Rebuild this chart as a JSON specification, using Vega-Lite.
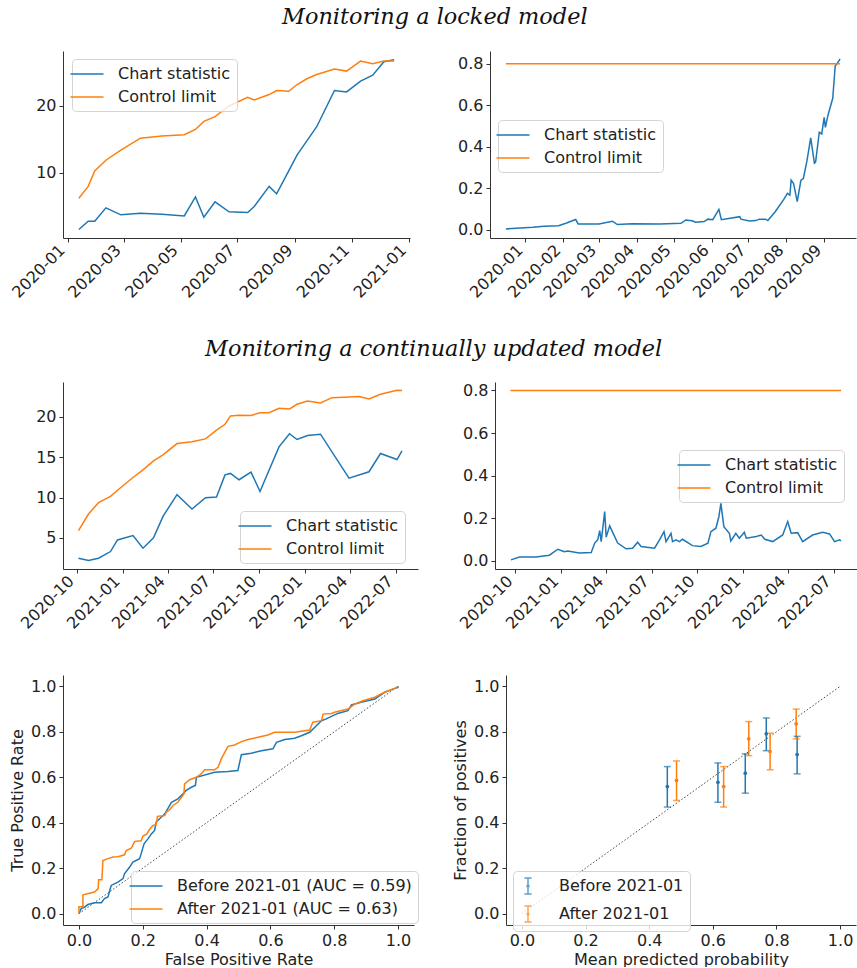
{
  "$schema": "https://vega.github.io/schema/vega-lite/v6.json",
  "padding": {"left": 9, "top": 5, "right": 0, "bottom": 0},
  "background": "white",
  "config": {
    "font": "DejaVu Sans",
    "view": {"stroke": null},
    "axis": {"grid": false, "domainColor": "#333", "tickColor": "#333", "labelColor": "#222", "labelFontSize": 16, "labelFont": "DejaVu Sans", "titleFont": "DejaVu Sans", "titleFontSize": 16, "titleFontWeight": "normal", "titleColor": "#222", "tickSize": 4, "labelPadding": 3, "domainWidth": 1, "tickWidth": 1},
    "legend": {"labelFontSize": 16, "labelFont": "DejaVu Sans", "labelColor": "#222", "strokeColor": "#d3d3d3", "fillColor": "rgba(255,255,255,0.8)", "cornerRadius": 4, "padding": 6, "rowPadding": 6, "symbolType": "M-2,0H2", "symbolSize": 272, "symbolStrokeWidth": 1.5, "labelOffset": 22, "labelLimit": 400},
    "title": {"font": "DejaVu Serif", "fontStyle": "italic", "fontSize": 22.4, "fontWeight": "normal", "color": "#111", "anchor": "start", "frame": "group"}
  },
  "datasets": {
    "p1": [
      {"date": "2020-01-13", "series": "Chart statistic", "value": 1.57}, {"date": "2020-01-13", "series": "Control limit", "value": 6.23},
      {"date": "2020-01-23", "series": "Chart statistic", "value": 2.81}, {"date": "2020-01-23", "series": "Control limit", "value": 8.0},
      {"date": "2020-01-30", "series": "Chart statistic", "value": 2.81}, {"date": "2020-01-30", "series": "Control limit", "value": 10.3},
      {"date": "2020-02-11", "series": "Chart statistic", "value": 4.8}, {"date": "2020-02-11", "series": "Control limit", "value": 11.9},
      {"date": "2020-02-27", "series": "Chart statistic", "value": 3.76}, {"date": "2020-02-27", "series": "Control limit", "value": 13.4},
      {"date": "2020-03-19", "series": "Chart statistic", "value": 4.0}, {"date": "2020-03-19", "series": "Control limit", "value": 15.2},
      {"date": "2020-04-11", "series": "Chart statistic", "value": 3.85}, {"date": "2020-04-11", "series": "Control limit", "value": 15.5},
      {"date": "2020-05-05", "series": "Chart statistic", "value": 3.6}, {"date": "2020-05-05", "series": "Control limit", "value": 15.7},
      {"date": "2020-05-17", "series": "Chart statistic", "value": 6.43}, {"date": "2020-05-17", "series": "Control limit", "value": 16.5},
      {"date": "2020-05-26", "series": "Chart statistic", "value": 3.4}, {"date": "2020-05-26", "series": "Control limit", "value": 17.7},
      {"date": "2020-06-07", "series": "Chart statistic", "value": 5.7}, {"date": "2020-06-07", "series": "Control limit", "value": 18.4},
      {"date": "2020-06-22", "series": "Chart statistic", "value": 4.2}, {"date": "2020-06-22", "series": "Control limit", "value": 20.0},
      {"date": "2020-07-12", "series": "Chart statistic", "value": 4.1}, {"date": "2020-07-12", "series": "Control limit", "value": 21.3},
      {"date": "2020-07-19", "series": "Chart statistic", "value": 5.0}, {"date": "2020-07-19", "series": "Control limit", "value": 20.9},
      {"date": "2020-08-04", "series": "Chart statistic", "value": 8.0}, {"date": "2020-08-04", "series": "Control limit", "value": 21.7},
      {"date": "2020-08-12", "series": "Chart statistic", "value": 6.9}, {"date": "2020-08-12", "series": "Control limit", "value": 22.3},
      {"date": "2020-08-25", "series": "Chart statistic", "value": 10.3}, {"date": "2020-08-25", "series": "Control limit", "value": 22.2},
      {"date": "2020-09-03", "series": "Chart statistic", "value": 12.7}, {"date": "2020-09-03", "series": "Control limit", "value": 23.2},
      {"date": "2020-09-14", "series": "Chart statistic", "value": 14.9}, {"date": "2020-09-14", "series": "Control limit", "value": 24.1},
      {"date": "2020-09-24", "series": "Chart statistic", "value": 16.9}, {"date": "2020-09-24", "series": "Control limit", "value": 24.7},
      {"date": "2020-10-13", "series": "Chart statistic", "value": 22.3}, {"date": "2020-10-13", "series": "Control limit", "value": 25.5},
      {"date": "2020-10-26", "series": "Chart statistic", "value": 22.1}, {"date": "2020-10-26", "series": "Control limit", "value": 25.2},
      {"date": "2020-11-10", "series": "Chart statistic", "value": 23.7}, {"date": "2020-11-10", "series": "Control limit", "value": 26.7},
      {"date": "2020-11-23", "series": "Chart statistic", "value": 24.6}, {"date": "2020-11-23", "series": "Control limit", "value": 26.3},
      {"date": "2020-12-05", "series": "Chart statistic", "value": 26.6}, {"date": "2020-12-05", "series": "Control limit", "value": 26.7},
      {"date": "2020-12-16", "series": "Chart statistic", "value": 26.9}, {"date": "2020-12-16", "series": "Control limit", "value": 26.7}
    ],
    "p2": [
      {"date": "2019-12-16", "series": "Chart statistic", "value": 0.003},
      {"date": "2020-01-07", "series": "Chart statistic", "value": 0.011},
      {"date": "2020-01-16", "series": "Chart statistic", "value": 0.016},
      {"date": "2020-01-28", "series": "Chart statistic", "value": 0.018},
      {"date": "2020-02-03", "series": "Chart statistic", "value": 0.03},
      {"date": "2020-02-11", "series": "Chart statistic", "value": 0.048},
      {"date": "2020-02-13", "series": "Chart statistic", "value": 0.027},
      {"date": "2020-03-01", "series": "Chart statistic", "value": 0.027},
      {"date": "2020-03-12", "series": "Chart statistic", "value": 0.04},
      {"date": "2020-03-16", "series": "Chart statistic", "value": 0.024},
      {"date": "2020-03-28", "series": "Chart statistic", "value": 0.028},
      {"date": "2020-04-20", "series": "Chart statistic", "value": 0.027},
      {"date": "2020-05-07", "series": "Chart statistic", "value": 0.03},
      {"date": "2020-05-11", "series": "Chart statistic", "value": 0.046},
      {"date": "2020-05-16", "series": "Chart statistic", "value": 0.042},
      {"date": "2020-05-19", "series": "Chart statistic", "value": 0.035},
      {"date": "2020-05-26", "series": "Chart statistic", "value": 0.038},
      {"date": "2020-05-29", "series": "Chart statistic", "value": 0.05},
      {"date": "2020-06-02", "series": "Chart statistic", "value": 0.047},
      {"date": "2020-06-07", "series": "Chart statistic", "value": 0.097},
      {"date": "2020-06-09", "series": "Chart statistic", "value": 0.047},
      {"date": "2020-06-24", "series": "Chart statistic", "value": 0.062},
      {"date": "2020-06-25", "series": "Chart statistic", "value": 0.05},
      {"date": "2020-07-02", "series": "Chart statistic", "value": 0.041},
      {"date": "2020-07-07", "series": "Chart statistic", "value": 0.043},
      {"date": "2020-07-10", "series": "Chart statistic", "value": 0.05},
      {"date": "2020-07-15", "series": "Chart statistic", "value": 0.05},
      {"date": "2020-07-17", "series": "Chart statistic", "value": 0.043},
      {"date": "2020-07-23", "series": "Chart statistic", "value": 0.086},
      {"date": "2020-07-30", "series": "Chart statistic", "value": 0.145},
      {"date": "2020-08-02", "series": "Chart statistic", "value": 0.174},
      {"date": "2020-08-04", "series": "Chart statistic", "value": 0.166},
      {"date": "2020-08-05", "series": "Chart statistic", "value": 0.238},
      {"date": "2020-08-07", "series": "Chart statistic", "value": 0.222},
      {"date": "2020-08-10", "series": "Chart statistic", "value": 0.134},
      {"date": "2020-08-13", "series": "Chart statistic", "value": 0.238},
      {"date": "2020-08-15", "series": "Chart statistic", "value": 0.246},
      {"date": "2020-08-18", "series": "Chart statistic", "value": 0.333},
      {"date": "2020-08-21", "series": "Chart statistic", "value": 0.442},
      {"date": "2020-08-24", "series": "Chart statistic", "value": 0.32},
      {"date": "2020-08-25", "series": "Chart statistic", "value": 0.325},
      {"date": "2020-08-28", "series": "Chart statistic", "value": 0.469},
      {"date": "2020-08-30", "series": "Chart statistic", "value": 0.461},
      {"date": "2020-09-01", "series": "Chart statistic", "value": 0.541},
      {"date": "2020-09-02", "series": "Chart statistic", "value": 0.493},
      {"date": "2020-09-04", "series": "Chart statistic", "value": 0.549},
      {"date": "2020-09-08", "series": "Chart statistic", "value": 0.633},
      {"date": "2020-09-10", "series": "Chart statistic", "value": 0.788},
      {"date": "2020-09-12", "series": "Chart statistic", "value": 0.804},
      {"date": "2020-09-14", "series": "Chart statistic", "value": 0.823},
      {"date": "2019-12-16", "series": "Control limit", "value": 0.8},
      {"date": "2020-09-14", "series": "Control limit", "value": 0.8}
    ],
    "p3": [
      {"date": "2020-10-05", "series": "Chart statistic", "value": 2.49},
      {"date": "2020-10-25", "series": "Chart statistic", "value": 2.2},
      {"date": "2020-11-14", "series": "Chart statistic", "value": 2.49},
      {"date": "2020-12-08", "series": "Chart statistic", "value": 3.31},
      {"date": "2020-12-22", "series": "Chart statistic", "value": 4.75},
      {"date": "2021-01-22", "series": "Chart statistic", "value": 5.28},
      {"date": "2021-02-11", "series": "Chart statistic", "value": 3.72},
      {"date": "2021-03-04", "series": "Chart statistic", "value": 5.0},
      {"date": "2021-03-23", "series": "Chart statistic", "value": 7.67},
      {"date": "2021-04-20", "series": "Chart statistic", "value": 10.35},
      {"date": "2021-05-20", "series": "Chart statistic", "value": 8.58},
      {"date": "2021-06-16", "series": "Chart statistic", "value": 9.98},
      {"date": "2021-07-08", "series": "Chart statistic", "value": 10.06},
      {"date": "2021-07-25", "series": "Chart statistic", "value": 12.8},
      {"date": "2021-08-05", "series": "Chart statistic", "value": 12.98},
      {"date": "2021-08-22", "series": "Chart statistic", "value": 12.2},
      {"date": "2021-09-15", "series": "Chart statistic", "value": 13.15},
      {"date": "2021-10-03", "series": "Chart statistic", "value": 10.75},
      {"date": "2021-11-10", "series": "Chart statistic", "value": 16.27},
      {"date": "2021-12-01", "series": "Chart statistic", "value": 17.9},
      {"date": "2021-12-16", "series": "Chart statistic", "value": 17.18},
      {"date": "2022-01-06", "series": "Chart statistic", "value": 17.67},
      {"date": "2022-02-01", "series": "Chart statistic", "value": 17.84},
      {"date": "2022-03-30", "series": "Chart statistic", "value": 12.4},
      {"date": "2022-05-09", "series": "Chart statistic", "value": 13.19},
      {"date": "2022-06-01", "series": "Chart statistic", "value": 15.45},
      {"date": "2022-07-04", "series": "Chart statistic", "value": 14.7},
      {"date": "2022-07-14", "series": "Chart statistic", "value": 15.78},
      {"date": "2020-10-05", "series": "Control limit", "value": 5.9},
      {"date": "2020-10-25", "series": "Control limit", "value": 7.96},
      {"date": "2020-11-14", "series": "Control limit", "value": 9.36},
      {"date": "2020-12-08", "series": "Control limit", "value": 10.14},
      {"date": "2020-12-22", "series": "Control limit", "value": 10.9},
      {"date": "2021-01-22", "series": "Control limit", "value": 12.48},
      {"date": "2021-02-11", "series": "Control limit", "value": 13.43},
      {"date": "2021-03-04", "series": "Control limit", "value": 14.54},
      {"date": "2021-03-23", "series": "Control limit", "value": 15.28},
      {"date": "2021-04-20", "series": "Control limit", "value": 16.68},
      {"date": "2021-05-20", "series": "Control limit", "value": 16.89},
      {"date": "2021-06-16", "series": "Control limit", "value": 17.26},
      {"date": "2021-07-08", "series": "Control limit", "value": 18.33},
      {"date": "2021-07-25", "series": "Control limit", "value": 19.07},
      {"date": "2021-08-05", "series": "Control limit", "value": 20.1},
      {"date": "2021-08-22", "series": "Control limit", "value": 20.19},
      {"date": "2021-09-15", "series": "Control limit", "value": 20.15},
      {"date": "2021-10-03", "series": "Control limit", "value": 20.5},
      {"date": "2021-10-21", "series": "Control limit", "value": 20.5},
      {"date": "2021-11-10", "series": "Control limit", "value": 21.05},
      {"date": "2021-12-01", "series": "Control limit", "value": 20.96},
      {"date": "2021-12-16", "series": "Control limit", "value": 21.54},
      {"date": "2022-01-06", "series": "Control limit", "value": 21.95},
      {"date": "2022-02-01", "series": "Control limit", "value": 21.7},
      {"date": "2022-02-24", "series": "Control limit", "value": 22.36},
      {"date": "2022-03-30", "series": "Control limit", "value": 22.44},
      {"date": "2022-04-19", "series": "Control limit", "value": 22.5},
      {"date": "2022-05-09", "series": "Control limit", "value": 22.2},
      {"date": "2022-06-01", "series": "Control limit", "value": 22.78},
      {"date": "2022-07-04", "series": "Control limit", "value": 23.27},
      {"date": "2022-07-14", "series": "Control limit", "value": 23.25}
    ],
    "p4": [
      {"date": "2020-09-22", "series": "Chart statistic", "value": 0.003},
      {"date": "2020-10-09", "series": "Chart statistic", "value": 0.016},
      {"date": "2020-11-11", "series": "Chart statistic", "value": 0.016},
      {"date": "2020-12-08", "series": "Chart statistic", "value": 0.025},
      {"date": "2020-12-25", "series": "Chart statistic", "value": 0.053},
      {"date": "2021-01-07", "series": "Chart statistic", "value": 0.041},
      {"date": "2021-01-14", "series": "Chart statistic", "value": 0.045},
      {"date": "2021-02-06", "series": "Chart statistic", "value": 0.035},
      {"date": "2021-03-02", "series": "Chart statistic", "value": 0.038},
      {"date": "2021-03-09", "series": "Chart statistic", "value": 0.082},
      {"date": "2021-03-15", "series": "Chart statistic", "value": 0.097},
      {"date": "2021-03-19", "series": "Chart statistic", "value": 0.141},
      {"date": "2021-03-22", "series": "Chart statistic", "value": 0.089},
      {"date": "2021-03-29", "series": "Chart statistic", "value": 0.23},
      {"date": "2021-04-01", "series": "Chart statistic", "value": 0.11},
      {"date": "2021-04-08", "series": "Chart statistic", "value": 0.163},
      {"date": "2021-04-24", "series": "Chart statistic", "value": 0.082},
      {"date": "2021-05-11", "series": "Chart statistic", "value": 0.055},
      {"date": "2021-05-24", "series": "Chart statistic", "value": 0.058},
      {"date": "2021-06-03", "series": "Chart statistic", "value": 0.086},
      {"date": "2021-06-10", "series": "Chart statistic", "value": 0.066},
      {"date": "2021-07-07", "series": "Chart statistic", "value": 0.058},
      {"date": "2021-07-17", "series": "Chart statistic", "value": 0.097},
      {"date": "2021-07-26", "series": "Chart statistic", "value": 0.136},
      {"date": "2021-07-30", "series": "Chart statistic", "value": 0.089},
      {"date": "2021-08-09", "series": "Chart statistic", "value": 0.128},
      {"date": "2021-08-12", "series": "Chart statistic", "value": 0.089},
      {"date": "2021-08-19", "series": "Chart statistic", "value": 0.097},
      {"date": "2021-08-26", "series": "Chart statistic", "value": 0.089},
      {"date": "2021-09-01", "series": "Chart statistic", "value": 0.1},
      {"date": "2021-09-21", "series": "Chart statistic", "value": 0.07},
      {"date": "2021-10-08", "series": "Chart statistic", "value": 0.066},
      {"date": "2021-10-22", "series": "Chart statistic", "value": 0.081},
      {"date": "2021-10-28", "series": "Chart statistic", "value": 0.136},
      {"date": "2021-11-07", "series": "Chart statistic", "value": 0.152},
      {"date": "2021-11-13", "series": "Chart statistic", "value": 0.206},
      {"date": "2021-11-17", "series": "Chart statistic", "value": 0.269},
      {"date": "2021-11-23", "series": "Chart statistic", "value": 0.159},
      {"date": "2021-12-04", "series": "Chart statistic", "value": 0.128},
      {"date": "2021-12-07", "series": "Chart statistic", "value": 0.092},
      {"date": "2021-12-17", "series": "Chart statistic", "value": 0.128},
      {"date": "2021-12-24", "series": "Chart statistic", "value": 0.105},
      {"date": "2022-01-03", "series": "Chart statistic", "value": 0.133},
      {"date": "2022-01-07", "series": "Chart statistic", "value": 0.105},
      {"date": "2022-01-27", "series": "Chart statistic", "value": 0.113},
      {"date": "2022-02-06", "series": "Chart statistic", "value": 0.12},
      {"date": "2022-02-13", "series": "Chart statistic", "value": 0.1},
      {"date": "2022-03-01", "series": "Chart statistic", "value": 0.089},
      {"date": "2022-03-21", "series": "Chart statistic", "value": 0.12},
      {"date": "2022-03-31", "series": "Chart statistic", "value": 0.183},
      {"date": "2022-04-07", "series": "Chart statistic", "value": 0.128},
      {"date": "2022-04-20", "series": "Chart statistic", "value": 0.131},
      {"date": "2022-04-30", "series": "Chart statistic", "value": 0.089},
      {"date": "2022-05-20", "series": "Chart statistic", "value": 0.12},
      {"date": "2022-06-09", "series": "Chart statistic", "value": 0.133},
      {"date": "2022-06-23", "series": "Chart statistic", "value": 0.125},
      {"date": "2022-07-03", "series": "Chart statistic", "value": 0.089},
      {"date": "2022-07-13", "series": "Chart statistic", "value": 0.097},
      {"date": "2022-07-16", "series": "Chart statistic", "value": 0.092},
      {"date": "2020-09-21", "series": "Control limit", "value": 0.8},
      {"date": "2022-07-16", "series": "Control limit", "value": 0.8}
    ],
    "diag": [{"x": 0, "y": 0}, {"x": 1, "y": 1}],
    "roc": [
      {"g": "Before 2021-01 (AUC = 0.59)", "i": 0, "f": 0, "t": 0},
      {"g": "Before 2021-01 (AUC = 0.59)", "i": 1, "f": 0.007, "t": 0.022},
      {"g": "Before 2021-01 (AUC = 0.59)", "i": 2, "f": 0.018, "t": 0.029},
      {"g": "Before 2021-01 (AUC = 0.59)", "i": 3, "f": 0.028, "t": 0.04},
      {"g": "Before 2021-01 (AUC = 0.59)", "i": 4, "f": 0.049, "t": 0.048},
      {"g": "Before 2021-01 (AUC = 0.59)", "i": 5, "f": 0.07, "t": 0.048},
      {"g": "Before 2021-01 (AUC = 0.59)", "i": 6, "f": 0.08, "t": 0.066},
      {"g": "Before 2021-01 (AUC = 0.59)", "i": 7, "f": 0.091, "t": 0.073},
      {"g": "Before 2021-01 (AUC = 0.59)", "i": 8, "f": 0.101, "t": 0.124},
      {"g": "Before 2021-01 (AUC = 0.59)", "i": 9, "f": 0.122, "t": 0.139},
      {"g": "Before 2021-01 (AUC = 0.59)", "i": 10, "f": 0.138, "t": 0.154},
      {"g": "Before 2021-01 (AUC = 0.59)", "i": 11, "f": 0.143, "t": 0.176},
      {"g": "Before 2021-01 (AUC = 0.59)", "i": 12, "f": 0.159, "t": 0.205},
      {"g": "Before 2021-01 (AUC = 0.59)", "i": 13, "f": 0.169, "t": 0.227},
      {"g": "Before 2021-01 (AUC = 0.59)", "i": 14, "f": 0.19, "t": 0.242},
      {"g": "Before 2021-01 (AUC = 0.59)", "i": 15, "f": 0.195, "t": 0.264},
      {"g": "Before 2021-01 (AUC = 0.59)", "i": 16, "f": 0.204, "t": 0.307},
      {"g": "Before 2021-01 (AUC = 0.59)", "i": 17, "f": 0.216, "t": 0.329},
      {"g": "Before 2021-01 (AUC = 0.59)", "i": 18, "f": 0.227, "t": 0.351},
      {"g": "Before 2021-01 (AUC = 0.59)", "i": 19, "f": 0.237, "t": 0.366},
      {"g": "Before 2021-01 (AUC = 0.59)", "i": 20, "f": 0.242, "t": 0.403},
      {"g": "Before 2021-01 (AUC = 0.59)", "i": 21, "f": 0.269, "t": 0.439},
      {"g": "Before 2021-01 (AUC = 0.59)", "i": 22, "f": 0.29, "t": 0.49},
      {"g": "Before 2021-01 (AUC = 0.59)", "i": 23, "f": 0.31, "t": 0.505},
      {"g": "Before 2021-01 (AUC = 0.59)", "i": 24, "f": 0.326, "t": 0.527},
      {"g": "Before 2021-01 (AUC = 0.59)", "i": 25, "f": 0.336, "t": 0.542},
      {"g": "Before 2021-01 (AUC = 0.59)", "i": 26, "f": 0.352, "t": 0.556},
      {"g": "Before 2021-01 (AUC = 0.59)", "i": 27, "f": 0.365, "t": 0.564},
      {"g": "Before 2021-01 (AUC = 0.59)", "i": 28, "f": 0.368, "t": 0.6},
      {"g": "Before 2021-01 (AUC = 0.59)", "i": 29, "f": 0.425, "t": 0.622},
      {"g": "Before 2021-01 (AUC = 0.59)", "i": 30, "f": 0.467, "t": 0.625},
      {"g": "Before 2021-01 (AUC = 0.59)", "i": 31, "f": 0.498, "t": 0.63},
      {"g": "Before 2021-01 (AUC = 0.59)", "i": 32, "f": 0.509, "t": 0.699},
      {"g": "Before 2021-01 (AUC = 0.59)", "i": 33, "f": 0.54, "t": 0.706},
      {"g": "Before 2021-01 (AUC = 0.59)", "i": 34, "f": 0.572, "t": 0.717},
      {"g": "Before 2021-01 (AUC = 0.59)", "i": 35, "f": 0.608, "t": 0.725},
      {"g": "Before 2021-01 (AUC = 0.59)", "i": 36, "f": 0.619, "t": 0.754},
      {"g": "Before 2021-01 (AUC = 0.59)", "i": 37, "f": 0.645, "t": 0.766},
      {"g": "Before 2021-01 (AUC = 0.59)", "i": 38, "f": 0.676, "t": 0.772},
      {"g": "Before 2021-01 (AUC = 0.59)", "i": 39, "f": 0.697, "t": 0.783},
      {"g": "Before 2021-01 (AUC = 0.59)", "i": 40, "f": 0.723, "t": 0.798},
      {"g": "Before 2021-01 (AUC = 0.59)", "i": 41, "f": 0.744, "t": 0.827},
      {"g": "Before 2021-01 (AUC = 0.59)", "i": 42, "f": 0.76, "t": 0.849},
      {"g": "Before 2021-01 (AUC = 0.59)", "i": 43, "f": 0.775, "t": 0.857},
      {"g": "Before 2021-01 (AUC = 0.59)", "i": 44, "f": 0.811, "t": 0.881},
      {"g": "Before 2021-01 (AUC = 0.59)", "i": 45, "f": 0.843, "t": 0.893},
      {"g": "Before 2021-01 (AUC = 0.59)", "i": 46, "f": 0.854, "t": 0.918},
      {"g": "Before 2021-01 (AUC = 0.59)", "i": 47, "f": 0.884, "t": 0.93},
      {"g": "Before 2021-01 (AUC = 0.59)", "i": 48, "f": 0.927, "t": 0.944},
      {"g": "Before 2021-01 (AUC = 0.59)", "i": 49, "f": 0.958, "t": 0.974},
      {"g": "Before 2021-01 (AUC = 0.59)", "i": 50, "f": 0.983, "t": 0.988},
      {"g": "Before 2021-01 (AUC = 0.59)", "i": 51, "f": 1.0, "t": 0.995},
      {"g": "Before 2021-01 (AUC = 0.59)", "i": 52, "f": 1.0, "t": 1.0},
      {"g": "After 2021-01 (AUC = 0.63)", "i": 0, "f": 0, "t": 0},
      {"g": "After 2021-01 (AUC = 0.63)", "i": 1, "f": 0, "t": 0.03},
      {"g": "After 2021-01 (AUC = 0.63)", "i": 2, "f": 0.0125, "t": 0.03},
      {"g": "After 2021-01 (AUC = 0.63)", "i": 3, "f": 0.0125, "t": 0.083},
      {"g": "After 2021-01 (AUC = 0.63)", "i": 4, "f": 0.033, "t": 0.09},
      {"g": "After 2021-01 (AUC = 0.63)", "i": 5, "f": 0.049, "t": 0.095},
      {"g": "After 2021-01 (AUC = 0.63)", "i": 6, "f": 0.06, "t": 0.11},
      {"g": "After 2021-01 (AUC = 0.63)", "i": 7, "f": 0.062, "t": 0.149},
      {"g": "After 2021-01 (AUC = 0.63)", "i": 8, "f": 0.072, "t": 0.149},
      {"g": "After 2021-01 (AUC = 0.63)", "i": 9, "f": 0.075, "t": 0.234},
      {"g": "After 2021-01 (AUC = 0.63)", "i": 10, "f": 0.091, "t": 0.242},
      {"g": "After 2021-01 (AUC = 0.63)", "i": 11, "f": 0.107, "t": 0.249},
      {"g": "After 2021-01 (AUC = 0.63)", "i": 12, "f": 0.122, "t": 0.25},
      {"g": "After 2021-01 (AUC = 0.63)", "i": 13, "f": 0.143, "t": 0.259},
      {"g": "After 2021-01 (AUC = 0.63)", "i": 14, "f": 0.148, "t": 0.278},
      {"g": "After 2021-01 (AUC = 0.63)", "i": 15, "f": 0.164, "t": 0.288},
      {"g": "After 2021-01 (AUC = 0.63)", "i": 16, "f": 0.175, "t": 0.318},
      {"g": "After 2021-01 (AUC = 0.63)", "i": 17, "f": 0.195, "t": 0.321},
      {"g": "After 2021-01 (AUC = 0.63)", "i": 18, "f": 0.2, "t": 0.34},
      {"g": "After 2021-01 (AUC = 0.63)", "i": 19, "f": 0.213, "t": 0.351},
      {"g": "After 2021-01 (AUC = 0.63)", "i": 20, "f": 0.222, "t": 0.373},
      {"g": "After 2021-01 (AUC = 0.63)", "i": 21, "f": 0.232, "t": 0.388},
      {"g": "After 2021-01 (AUC = 0.63)", "i": 22, "f": 0.242, "t": 0.391},
      {"g": "After 2021-01 (AUC = 0.63)", "i": 23, "f": 0.246, "t": 0.428},
      {"g": "After 2021-01 (AUC = 0.63)", "i": 24, "f": 0.269, "t": 0.432},
      {"g": "After 2021-01 (AUC = 0.63)", "i": 25, "f": 0.274, "t": 0.447},
      {"g": "After 2021-01 (AUC = 0.63)", "i": 26, "f": 0.284, "t": 0.457},
      {"g": "After 2021-01 (AUC = 0.63)", "i": 27, "f": 0.295, "t": 0.476},
      {"g": "After 2021-01 (AUC = 0.63)", "i": 28, "f": 0.31, "t": 0.49},
      {"g": "After 2021-01 (AUC = 0.63)", "i": 29, "f": 0.321, "t": 0.512},
      {"g": "After 2021-01 (AUC = 0.63)", "i": 30, "f": 0.329, "t": 0.527},
      {"g": "After 2021-01 (AUC = 0.63)", "i": 31, "f": 0.331, "t": 0.571},
      {"g": "After 2021-01 (AUC = 0.63)", "i": 32, "f": 0.347, "t": 0.589},
      {"g": "After 2021-01 (AUC = 0.63)", "i": 33, "f": 0.368, "t": 0.6},
      {"g": "After 2021-01 (AUC = 0.63)", "i": 34, "f": 0.383, "t": 0.615},
      {"g": "After 2021-01 (AUC = 0.63)", "i": 35, "f": 0.394, "t": 0.633},
      {"g": "After 2021-01 (AUC = 0.63)", "i": 36, "f": 0.425, "t": 0.633},
      {"g": "After 2021-01 (AUC = 0.63)", "i": 37, "f": 0.436, "t": 0.644},
      {"g": "After 2021-01 (AUC = 0.63)", "i": 38, "f": 0.446, "t": 0.681},
      {"g": "After 2021-01 (AUC = 0.63)", "i": 39, "f": 0.467, "t": 0.736},
      {"g": "After 2021-01 (AUC = 0.63)", "i": 40, "f": 0.488, "t": 0.742},
      {"g": "After 2021-01 (AUC = 0.63)", "i": 41, "f": 0.509, "t": 0.757},
      {"g": "After 2021-01 (AUC = 0.63)", "i": 42, "f": 0.53, "t": 0.766},
      {"g": "After 2021-01 (AUC = 0.63)", "i": 43, "f": 0.561, "t": 0.776},
      {"g": "After 2021-01 (AUC = 0.63)", "i": 44, "f": 0.592, "t": 0.786},
      {"g": "After 2021-01 (AUC = 0.63)", "i": 45, "f": 0.613, "t": 0.798},
      {"g": "After 2021-01 (AUC = 0.63)", "i": 46, "f": 0.676, "t": 0.798},
      {"g": "After 2021-01 (AUC = 0.63)", "i": 47, "f": 0.723, "t": 0.808},
      {"g": "After 2021-01 (AUC = 0.63)", "i": 48, "f": 0.733, "t": 0.842},
      {"g": "After 2021-01 (AUC = 0.63)", "i": 49, "f": 0.76, "t": 0.849},
      {"g": "After 2021-01 (AUC = 0.63)", "i": 50, "f": 0.765, "t": 0.878},
      {"g": "After 2021-01 (AUC = 0.63)", "i": 51, "f": 0.791, "t": 0.881},
      {"g": "After 2021-01 (AUC = 0.63)", "i": 52, "f": 0.801, "t": 0.886},
      {"g": "After 2021-01 (AUC = 0.63)", "i": 53, "f": 0.843, "t": 0.9},
      {"g": "After 2021-01 (AUC = 0.63)", "i": 54, "f": 0.864, "t": 0.922},
      {"g": "After 2021-01 (AUC = 0.63)", "i": 55, "f": 0.89, "t": 0.937},
      {"g": "After 2021-01 (AUC = 0.63)", "i": 56, "f": 0.927, "t": 0.952},
      {"g": "After 2021-01 (AUC = 0.63)", "i": 57, "f": 0.958, "t": 0.974},
      {"g": "After 2021-01 (AUC = 0.63)", "i": 58, "f": 0.99, "t": 0.991},
      {"g": "After 2021-01 (AUC = 0.63)", "i": 59, "f": 1.0, "t": 1.0}
    ],
    "cal": [
      {"g": "Before 2021-01", "p": 0.457, "frac": 0.559, "lo": 0.469, "hi": 0.647},
      {"g": "Before 2021-01", "p": 0.616, "frac": 0.578, "lo": 0.49, "hi": 0.663},
      {"g": "Before 2021-01", "p": 0.702, "frac": 0.618, "lo": 0.53, "hi": 0.703},
      {"g": "Before 2021-01", "p": 0.768, "frac": 0.791, "lo": 0.717, "hi": 0.861},
      {"g": "Before 2021-01", "p": 0.865, "frac": 0.7, "lo": 0.615, "hi": 0.78},
      {"g": "After 2021-01", "p": 0.486, "frac": 0.586, "lo": 0.498, "hi": 0.672},
      {"g": "After 2021-01", "p": 0.634, "frac": 0.559, "lo": 0.469, "hi": 0.647},
      {"g": "After 2021-01", "p": 0.713, "frac": 0.769, "lo": 0.695, "hi": 0.845},
      {"g": "After 2021-01", "p": 0.78, "frac": 0.713, "lo": 0.633, "hi": 0.794},
      {"g": "After 2021-01", "p": 0.862, "frac": 0.835, "lo": 0.769, "hi": 0.9}
    ]
  },
  "resolve": {"scale": {"color": "independent"}, "legend": {"color": "independent"}},
  "spacing": 36,
  "vconcat": [
    {
      "title": {"text": "Monitoring a locked model", "dx": 219, "offset": 23},
      "spacing": 47,
      "resolve": {"scale": {"color": "independent"}, "legend": {"color": "independent"}},
      "hconcat": [
        {
          "width": 347, "height": 187,
          "data": {"name": "p1"},
          "mark": {"type": "line", "strokeWidth": 1.5},
          "encoding": {
            "x": {"field": "date", "type": "temporal", "scale": {"type": "utc", "domain": [{"year": 2019, "month": 12, "date": 27, "utc": true}, {"year": 2021, "month": 1, "date": 2, "utc": true}]}, "axis": {"title": null, "format": "%Y-%m", "tickCount": {"interval": "month", "step": 2}, "labelAngle": -45, "labelAlign": "right", "labelBaseline": "bottom", "labelPadding": 11, "labelOverlap": false, "labelFlush": false}},
            "y": {"field": "value", "type": "quantitative", "scale": {"domain": [0.3, 28.2], "nice": false, "zero": false}, "axis": {"title": null, "values": [10, 20]}},
            "color": {"field": "series", "type": "nominal", "scale": {"domain": ["Chart statistic", "Control limit"], "range": ["#1f77b4", "#ff7f0e"]}, "legend": {"title": null, "orient": "none", "legendX": 9, "legendY": 8}}
          }
        },
        {
          "width": 366, "height": 187,
          "data": {"name": "p2"},
          "mark": {"type": "line", "strokeWidth": 1.5},
          "encoding": {
            "x": {"field": "date", "type": "temporal", "scale": {"type": "utc", "domain": [{"year": 2019, "month": 12, "date": 3, "utc": true}, {"year": 2020, "month": 9, "date": 27, "utc": true}]}, "axis": {"title": null, "format": "%Y-%m", "tickCount": {"interval": "month", "step": 1}, "labelAngle": -45, "labelAlign": "right", "labelBaseline": "bottom", "labelPadding": 11, "labelOverlap": false, "labelFlush": false}},
            "y": {"field": "value", "type": "quantitative", "scale": {"domain": [-0.041, 0.861], "nice": false, "zero": false}, "axis": {"title": null, "values": [0, 0.2, 0.4, 0.6, 0.8], "format": ".1f"}},
            "color": {"field": "series", "type": "nominal", "scale": {"domain": ["Chart statistic", "Control limit"], "range": ["#1f77b4", "#ff7f0e"]}, "legend": {"title": null, "orient": "none", "legendX": 8, "legendY": 69}}
          }
        }
      ]
    },
    {
      "title": {"text": "Monitoring a continually updated model", "dx": 142, "offset": 22},
      "spacing": 38,
      "resolve": {"scale": {"color": "independent"}, "legend": {"color": "independent"}},
      "hconcat": [
        {
          "width": 355, "height": 187,
          "data": {"name": "p3"},
          "mark": {"type": "line", "strokeWidth": 1.5},
          "encoding": {
            "x": {"field": "date", "type": "temporal", "scale": {"type": "utc", "domain": [{"year": 2020, "month": 9, "date": 4, "utc": true}, {"year": 2022, "month": 8, "date": 15, "utc": true}]}, "axis": {"title": null, "format": "%Y-%m", "tickCount": {"interval": "month", "step": 3}, "labelAngle": -45, "labelAlign": "right", "labelBaseline": "bottom", "labelPadding": 11, "labelOverlap": false, "labelFlush": false}},
            "y": {"field": "value", "type": "quantitative", "scale": {"domain": [1.15, 24.3], "nice": false, "zero": false}, "axis": {"title": null, "values": [5, 10, 15, 20]}},
            "color": {"field": "series", "type": "nominal", "scale": {"domain": ["Chart statistic", "Control limit"], "range": ["#1f77b4", "#ff7f0e"]}, "legend": {"title": null, "orient": "none", "legendX": 177, "legendY": 129}}
          }
        },
        {
          "width": 362, "height": 187,
          "data": {"name": "p4"},
          "mark": {"type": "line", "strokeWidth": 1.5},
          "encoding": {
            "x": {"field": "date", "type": "temporal", "scale": {"type": "utc", "domain": [{"year": 2020, "month": 8, "date": 21, "utc": true}, {"year": 2022, "month": 8, "date": 17, "utc": true}]}, "axis": {"title": null, "format": "%Y-%m", "tickCount": {"interval": "month", "step": 3}, "labelAngle": -45, "labelAlign": "right", "labelBaseline": "bottom", "labelPadding": 11, "labelOverlap": false, "labelFlush": false}},
            "y": {"field": "value", "type": "quantitative", "scale": {"domain": [-0.04, 0.84], "nice": false, "zero": false}, "axis": {"title": null, "values": [0, 0.2, 0.4, 0.6, 0.8], "format": ".1f"}},
            "color": {"field": "series", "type": "nominal", "scale": {"domain": ["Chart statistic", "Control limit"], "range": ["#1f77b4", "#ff7f0e"]}, "legend": {"title": null, "orient": "none", "legendX": 184, "legendY": 68}}
          }
        }
      ]
    },
    {
      "title": {"text": " ", "fontSize": 6, "offset": 1},
      "spacing": 33,
      "resolve": {"scale": {"color": "independent"}, "legend": {"color": "independent"}},
      "hconcat": [
        {
          "width": 351, "height": 250,
          "layer": [
            {
              "data": {"name": "diag"},
              "mark": {"type": "line", "strokeWidth": 1, "color": "#444", "strokeDash": [1.5, 2]},
              "encoding": {"x": {"field": "x", "type": "quantitative"}, "y": {"field": "y", "type": "quantitative"}}
            },
            {
              "data": {"name": "roc"},
              "mark": {"type": "line", "strokeWidth": 1.5},
              "encoding": {
                "x": {"field": "f", "type": "quantitative", "scale": {"domain": [-0.05, 1.05], "nice": false, "zero": false}, "axis": {"title": "False Positive Rate", "values": [0, 0.2, 0.4, 0.6, 0.8, 1.0], "format": ".1f", "titlePadding": 3}},
                "y": {"field": "t", "type": "quantitative", "scale": {"domain": [-0.05, 1.05], "nice": false, "zero": false}, "axis": {"title": "True Positive Rate", "values": [0, 0.2, 0.4, 0.6, 0.8, 1.0], "format": ".1f", "titlePadding": 5}},
                "order": {"field": "i", "type": "quantitative"},
                "color": {"field": "g", "type": "nominal", "scale": {"domain": ["Before 2021-01 (AUC = 0.59)", "After 2021-01 (AUC = 0.63)"], "range": ["#1f77b4", "#ff7f0e"]}, "legend": {"title": null, "orient": "none", "legendX": 68, "legendY": 196}}
              }
            }
          ]
        },
        {
          "width": 350, "height": 250,
          "layer": [
            {
              "data": {"name": "diag"},
              "mark": {"type": "line", "strokeWidth": 1, "color": "#444", "strokeDash": [1.5, 2]},
              "encoding": {
                "x": {"field": "x", "type": "quantitative", "scale": {"domain": [-0.05, 1.05], "nice": false, "zero": false}, "axis": {"title": "Mean predicted probability", "values": [0, 0.2, 0.4, 0.6, 0.8, 1.0], "format": ".1f", "titlePadding": 3}},
                "y": {"field": "y", "type": "quantitative", "scale": {"domain": [-0.05, 1.05], "nice": false, "zero": false}, "axis": {"title": "Fraction of positives", "values": [0, 0.2, 0.4, 0.6, 0.8, 1.0], "format": ".1f", "titlePadding": 5}}
              }
            },
            {
              "data": {"name": "cal"},
              "mark": {"type": "rule", "strokeWidth": 1.5},
              "encoding": {
                "x": {"field": "p", "type": "quantitative"},
                "y": {"field": "lo", "type": "quantitative"},
                "y2": {"field": "hi"},
                "color": {"field": "g", "type": "nominal", "scale": {"domain": ["Before 2021-01", "After 2021-01"], "range": ["#1f77b4", "#ff7f0e"]}, "legend": {"title": null, "orient": "none", "legendX": 7, "legendY": 196, "symbolType": "M0,-1V1M-0.45,-1H0.45M-0.45,1H0.45M0.12,0A0.12,0.12 0 1,1 -0.12,0A0.12,0.12 0 1,1 0.12,0", "symbolSize": 256}}
              }
            },
            {
              "data": {"name": "cal"},
              "mark": {"type": "tick", "orient": "horizontal", "size": 7, "thickness": 1.5},
              "encoding": {
                "x": {"field": "p", "type": "quantitative"},
                "y": {"field": "lo", "type": "quantitative"},
                "color": {"field": "g", "type": "nominal"}
              }
            },
            {
              "data": {"name": "cal"},
              "mark": {"type": "tick", "orient": "horizontal", "size": 7, "thickness": 1.5},
              "encoding": {
                "x": {"field": "p", "type": "quantitative"},
                "y": {"field": "hi", "type": "quantitative"},
                "color": {"field": "g", "type": "nominal"}
              }
            },
            {
              "data": {"name": "cal"},
              "mark": {"type": "point", "filled": true, "size": 14, "opacity": 1},
              "encoding": {
                "x": {"field": "p", "type": "quantitative"},
                "y": {"field": "frac", "type": "quantitative"},
                "color": {"field": "g", "type": "nominal"}
              }
            }
          ]
        }
      ]
    }
  ]
}
